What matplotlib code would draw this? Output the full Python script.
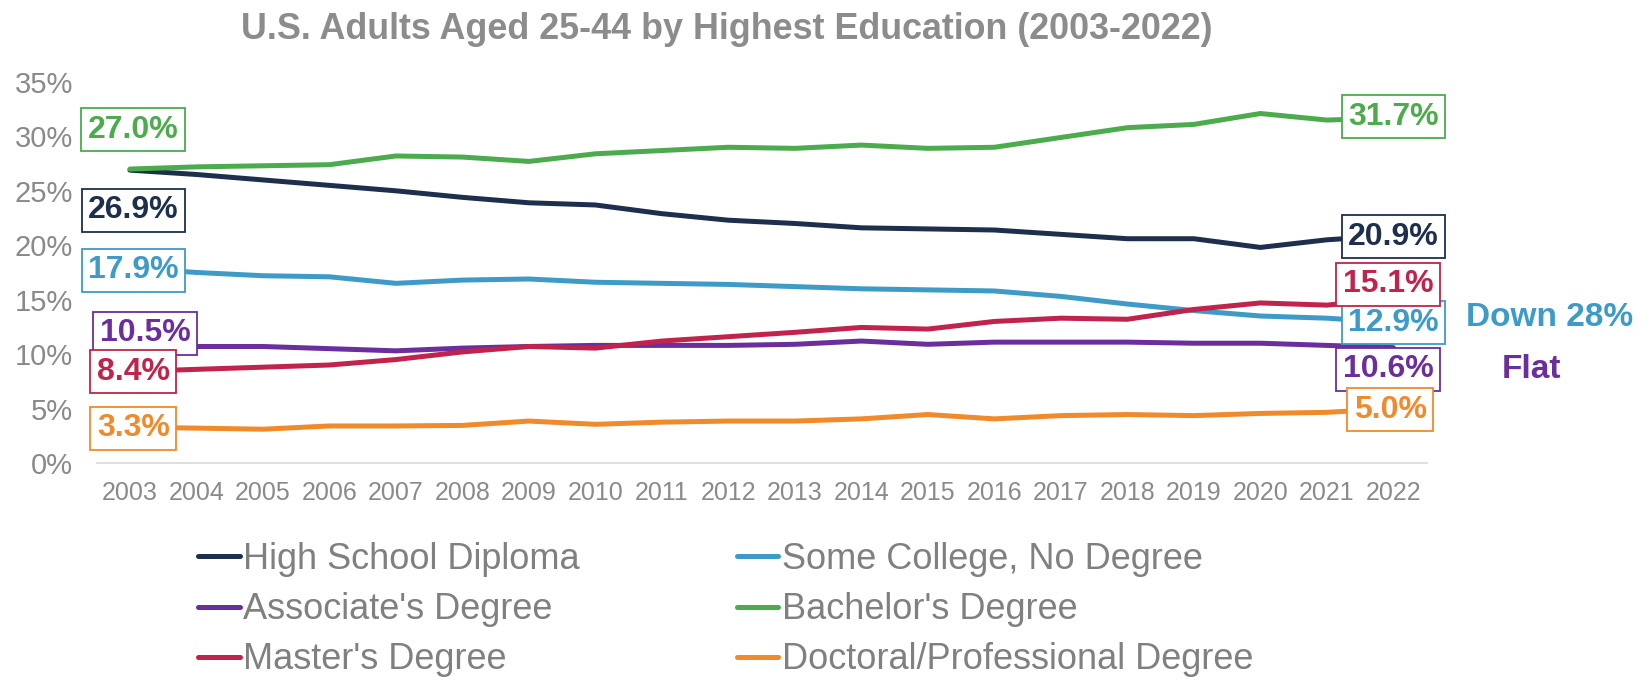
import matplotlib
matplotlib.use("Agg")
import matplotlib.pyplot as plt
from matplotlib.ticker import PercentFormatter

plt.rcParams['font.family'] = ['Liberation Sans', 'DejaVu Sans']

# data (percent of U.S. adults aged 25-44)
years = list(range(2003, 2023))
high_school = [26.9, 26.5, 26.0, 25.5, 25.0, 24.4, 23.9, 23.7, 22.9, 22.3,
               22.0, 21.6, 21.5, 21.4, 21.0, 20.6, 20.6, 19.8, 20.5, 20.9]
some_college = [17.9, 17.5, 17.2, 17.1, 16.5, 16.8, 16.9, 16.6, 16.5, 16.4,
                16.2, 16.0, 15.9, 15.8, 15.3, 14.6, 14.0, 13.5, 13.3, 12.9]
associates = [10.5, 10.7, 10.7, 10.5, 10.3, 10.55, 10.7, 10.8, 10.8, 10.8,
              10.9, 11.2, 10.9, 11.1, 11.1, 11.1, 11.0, 11.0, 10.8, 10.6]
bachelors = [27.0, 27.2, 27.3, 27.4, 28.2, 28.1, 27.7, 28.4, 28.7, 29.0,
             28.9, 29.2, 28.9, 29.0, 29.9, 30.8, 31.1, 32.1, 31.5, 31.7]
masters = [8.4, 8.6, 8.8, 9.0, 9.5, 10.2, 10.7, 10.55, 11.2, 11.6,
           12.0, 12.45, 12.3, 13.0, 13.3, 13.2, 14.1, 14.7, 14.5, 15.1]
doctoral = [3.3, 3.2, 3.1, 3.4, 3.4, 3.45, 3.85, 3.55, 3.75, 3.85,
            3.85, 4.05, 4.45, 4.05, 4.35, 4.45, 4.35, 4.55, 4.65, 5.0]

series = [
    ("High School Diploma", high_school, "#1d2f4d"),
    ("Some College, No Degree", some_college, "#3e9bc7"),
    ("Associate's Degree", associates, "#6a2f9d"),
    ("Bachelor's Degree", bachelors, "#4cab4c"),
    ("Master's Degree", masters, "#c0234b"),
    ("Doctoral/Professional Degree", doctoral, "#f08a2a"),
]

# where the value boxes sit (x index, y in %), start and end
start_pos = [(0.05, 23.2), (0.05, 17.7), (0.23, 11.9), (0.05, 30.6), (0.05, 8.4), (0.05, 3.2)]
end_pos = [(19.0, 20.8), (19.0, 12.9), (18.92, 8.6), (19.0, 31.8), (18.92, 16.4), (18.95, 4.9)]

fig = plt.figure(figsize=(16.5, 6.91), dpi=100)
ax = fig.add_axes([0.0586, 0.33, 0.806, 0.5514])

x = list(range(len(years)))
handles = []
for (name, vals, col), sp, ep in zip(series, start_pos, end_pos):
    ln, = ax.plot(x, vals, color=col, lw=3.6, label=name, solid_capstyle='round', zorder=2)
    handles.append(ln)
    for (px, py), v in ((sp, vals[0]), (ep, vals[-1])):
        ax.text(px, py, f"{v:.1f}%", color=col, fontsize=23, fontweight='bold',
                ha='center', va='center', zorder=5,
                bbox=dict(boxstyle='square,pad=0.2', fc='white', ec=col, lw=1.3))

ax.set_xlim(-0.5, 19.5)
ax.set_ylim(0, 35)
ax.set_xticks(x)
ax.set_xticklabels([str(y) for y in years])
ax.set_yticks(range(0, 36, 5))
ax.yaxis.set_major_formatter(PercentFormatter(decimals=0))
ax.tick_params(axis='x', length=0, labelsize=18, labelcolor='#8a8a8a', pad=13)
ax.tick_params(axis='y', length=0, labelsize=21, labelcolor='#8a8a8a', pad=17)
for s in ['top', 'right', 'left']:
    ax.spines[s].set_visible(False)
ax.spines['bottom'].set_color('#d9d9d9')
ax.spines['bottom'].set_linewidth(1.2)

fig.text(0.4406, 0.958, "U.S. Adults Aged 25-44 by Highest Education (2003-2022)",
         ha='center', va='center', fontsize=25.8, fontweight='bold', color='#8c8c8c')

fig.text(1550 / 1650, 1 - 317 / 691, "Down 28%", ha='center', va='center',
         fontsize=24, fontweight='bold', color='#3e9bc7')
fig.text(1532 / 1650, 1 - 369 / 691, "Flat", ha='center', va='center',
         fontsize=24, fontweight='bold', color='#6a2f9d')

# legend reads row by row: reorder so column filling matches
order = [0, 2, 4, 1, 3, 5]
fig.legend([handles[i] for i in order], [series[i][0] for i in order],
           loc='upper left', bbox_to_anchor=(198 / 1650, 1 - 542 / 691), ncol=2,
           frameon=False, fontsize=26, labelcolor='#808080', handlelength=1.15,
           handletextpad=0.1, columnspacing=4.35, labelspacing=0.42,
           borderpad=0, borderaxespad=0)

fig.savefig("out.png", dpi=100)
